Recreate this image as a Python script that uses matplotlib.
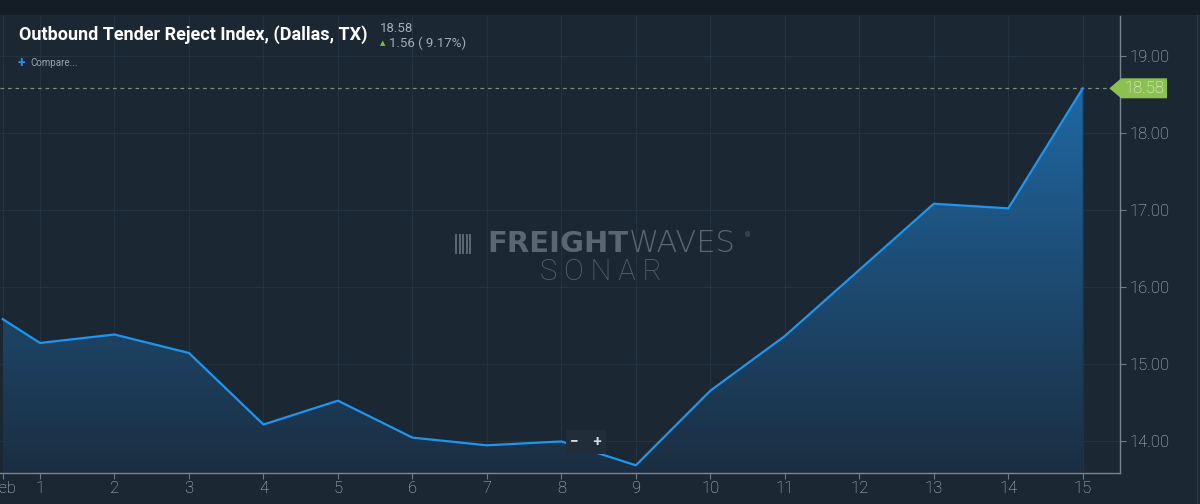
import matplotlib.pyplot as plt
import numpy as np
from matplotlib.colors import LinearSegmentedColormap
from matplotlib.patches import Polygon, Rectangle
from matplotlib.transforms import blended_transform_factory

# Outbound Tender Reject Index, Dallas TX - daily values in February
days = [0.5, 1, 2, 3, 4, 5, 6, 7, 8, 9, 10, 11, 12, 13, 14, 15]
values = [15.58, 15.27, 15.38, 15.14, 14.21, 14.52, 14.04, 13.94, 13.99,
          13.68, 14.65, 15.36, 16.22, 17.08, 17.02, 18.58]
tick_pos = [0.5, 1, 2, 3, 4, 5, 6, 7, 8, 9, 10, 11, 12, 13, 14, 15]
tick_labels = ['Feb', '1', '2', '3', '4', '5', '6', '7', '8', '9', '10',
               '11', '12', '13', '14', '15']
y_ticks = [14, 15, 16, 17, 18, 19]
last_value = 18.58
change = 1.56
change_pct = 9.17

bg = '#1b2733'
grid_c = '#243341'
text_c = '#c2c9d0'
wm_c = '#5a6772'
plt.rcParams['font.family'] = ['Roboto', 'DejaVu Sans']

fig = plt.figure(figsize=(12, 5.04), dpi=100, facecolor=bg)
# darker strip on top of the panel
fig.patches.append(Rectangle((0, 1 - 15 / 504), 1, 15 / 504, transform=fig.transFigure,
                             facecolor='#141d26', edgecolor='none', zorder=0))
fig.lines.append(plt.Line2D([1197 / 1200, 1197 / 1200], [0, 1 - 15 / 504],
                            transform=fig.transFigure, color='#2e3b47', lw=1))

ax = fig.add_axes([0, 31 / 504, 1120 / 1200, 1 - 47 / 504])
ax.set_facecolor(bg)

# gradient fill under the line
poly = ax.fill_between(days, values, 13.58, color='none')
cmap = LinearSegmentedColormap.from_list('fill', ['#1b2e41', '#1f68a3'])
grad = np.linspace(0, 1, 256).reshape(-1, 1)
im = ax.imshow(grad, cmap=cmap, origin='lower', aspect='auto',
               extent=[days[0], days[-1], 13.58, max(values)], zorder=1)
im.set_clip_path(poly.get_paths()[0], transform=ax.transData)
ax.set_xlim(0.463, 15.5)
ax.set_ylim(13.58, 19.52)

ax.plot(days, values, color='#1e96f0', lw=1.6, zorder=3)

# last value dashed line
ax.axhline(last_value, color='#7d8c74', lw=0.9, ls=(0, (3, 3)), zorder=2)

ax.set_xticks(tick_pos)
ax.set_xticklabels(tick_labels)
ax.set_yticks(y_ticks)
ax.set_yticklabels([f'{v:.2f}' for v in y_ticks])
ax.yaxis.tick_right()
ax.tick_params(axis='both', colors='#6f7a84', labelcolor=text_c, length=4,
               labelsize=12, width=0.8)
ax.tick_params(axis='x', pad=2)
ax.tick_params(axis='y', pad=3)
for lab in ax.get_xticklabels() + ax.get_yticklabels():
    lab.set_fontweight('light')
ax.grid(True, color=grid_c, lw=0.8, zorder=0)
ax.set_axisbelow(True)
for s in ['left', 'top']:
    ax.spines[s].set_visible(False)
for s in ['bottom', 'right']:
    ax.spines[s].set_color('#7a858f')
    ax.spines[s].set_linewidth(1)

# green value tag on the right axis
tr = blended_transform_factory(ax.transAxes, ax.transData)
tag = Polygon([(0.9905, last_value), (1.001, last_value + 0.13), (1.042, last_value + 0.13),
               (1.042, last_value - 0.13), (1.001, last_value - 0.13)],
              closed=True, transform=tr, facecolor='#8cc152', edgecolor='none',
              clip_on=False, zorder=5)
ax.add_patch(tag)
ax.text(1.0215, last_value, f'{last_value:.2f}', transform=tr, ha='center', va='center',
        color='#f2f7ec', fontsize=12, fontweight='light', clip_on=False, zorder=6)

# watermark
split = 628 / 1120
ax.text(split, 0.502, 'FREIGHT', transform=ax.transAxes, ha='right', va='center',
        color=wm_c, fontsize=21, fontweight='bold', family=['DejaVu Sans'], zorder=2)
ax.text(split + 0.001, 0.502, 'WAVES', transform=ax.transAxes, ha='left', va='center',
        color=wm_c, fontsize=22, fontweight='light', family=['DejaVu Sans'], zorder=2)
ax.text(745 / 1120, 0.52, '®', transform=ax.transAxes, ha='left', va='center',
        color=wm_c, fontsize=5, zorder=2)
ax.text(601 / 1120, 0.44, 'S O N A R', transform=ax.transAxes, ha='center', va='center',
        color=wm_c, fontsize=21, fontweight='light', zorder=2)
# small striped logo mark
for i in range(5):
    ax.add_patch(Rectangle((455 / 1120 + i * 3.6 / 1120, 0.48), 2 / 1120, 0.042,
                           transform=ax.transAxes, facecolor=wm_c, edgecolor='none',
                           zorder=2))

# zoom buttons
ax.text(586 / 1120, 1 - (442 - 16) / 457, '−    +', transform=ax.transAxes, ha='center',
        va='center', color='#d5dadf', fontsize=11, fontweight='bold', zorder=6,
        bbox=dict(boxstyle='square,pad=0.3', fc='#212d39', ec='none'))

# title block
fig.text(19 / 1200, 1 - 35 / 504, 'Outbound Tender Reject Index, (Dallas, TX)',
         fontweight='bold', fontsize=13, color='#ffffff', va='center', ha='left')
fig.text(380 / 1200, 1 - 28 / 504, f'{last_value:.2f}', fontsize=9.5,
         color='#a4acb4', va='center', ha='left')
fig.text(380 / 1200, 1 - 43 / 504, '▲', fontsize=5, color='#7cc242',
         va='center', ha='left', family=['DejaVu Sans'])
fig.text(389 / 1200, 1 - 43 / 504, f'{change:.2f} ( {change_pct:.2f}%)', fontsize=9.5,
         color='#a4acb4', va='center', ha='left')
fig.text(18 / 1200, 1 - 63 / 504, '+', fontsize=10, color='#2f8fe8',
         fontweight='bold', va='center', ha='left')
fig.text(30 / 1200, 1 - 63 / 504, 'Compare...', fontsize=7, color='#9aa3ab',
         va='center', ha='left')

fig.savefig('out.png', dpi=100, facecolor=bg)
